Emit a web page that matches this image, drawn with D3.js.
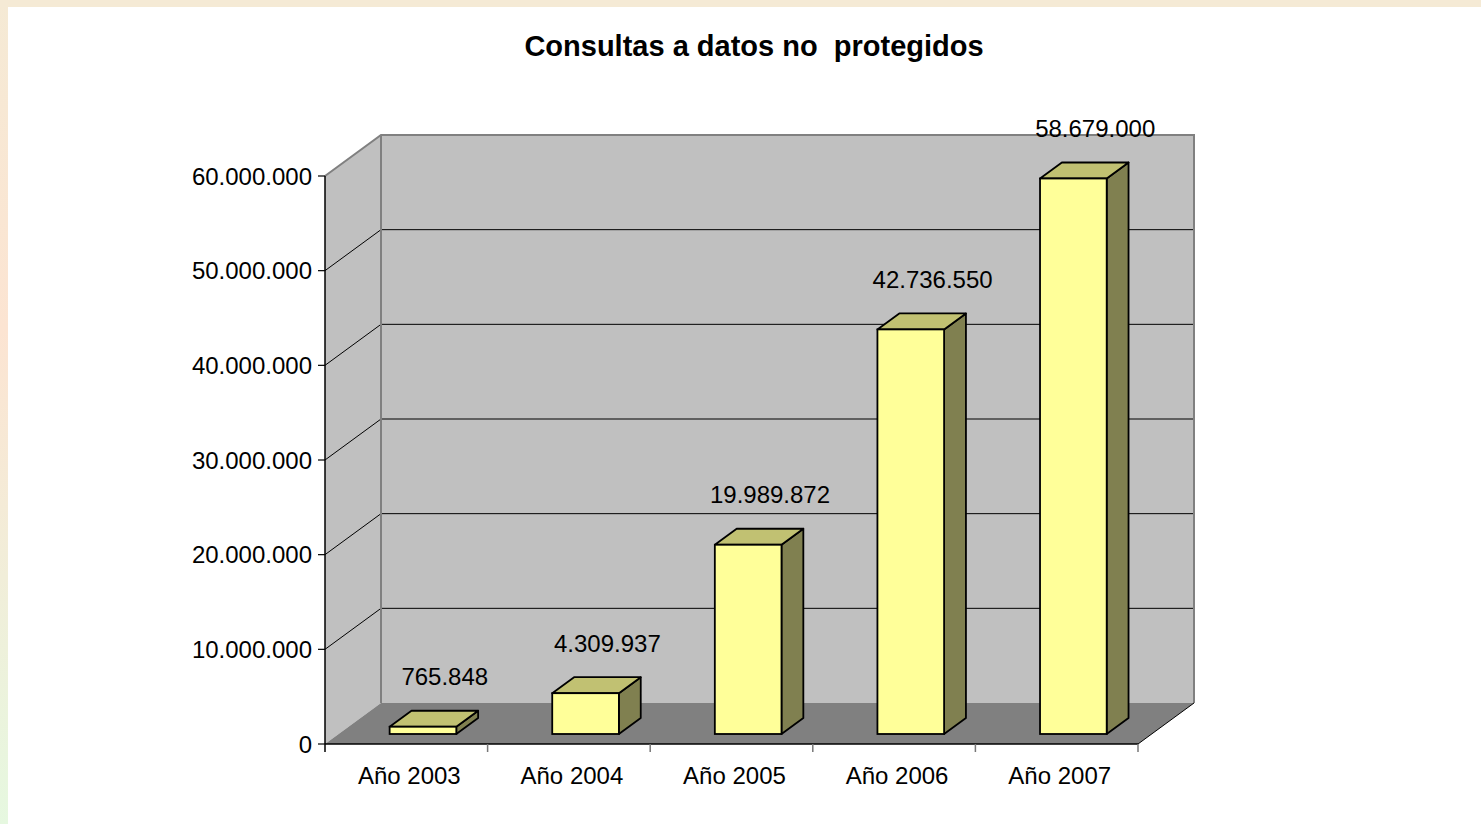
<!DOCTYPE html>
<html>
<head>
<meta charset="utf-8">
<script src="https://cdn.jsdelivr.net/npm/d3@7"></script>
<style>
  body { margin: 0; background: #fff; }
  text { font-family: "Liberation Sans", Arial, sans-serif; }
</style>
</head>
<body>
<div class="canva"></div>
<script>
// datos
const years = ["Año 2003", "Año 2004", "Año 2005", "Año 2006", "Año 2007"];
const consultas = [765848, 4309937, 19989872, 42736550, 58679000];
const yTicks = [0, 10000000, 20000000, 30000000, 40000000, 50000000, 60000000];
const titulo = "Consultas a datos no  protegidos";

const W = 1481, H = 824;

const svg = d3.select(".canva").append("svg")
    .attr("width", W)
    .attr("height", H);

// marco de fondo
const defs = svg.append("defs");
const grad = defs.append("linearGradient")
    .attr("id", "marco")
    .attr("x1", 0).attr("y1", 0).attr("x2", 0).attr("y2", 1);
grad.append("stop").attr("offset", "0%").attr("stop-color", "#f5ead5");
grad.append("stop").attr("offset", "40%").attr("stop-color", "#fce4d2");
grad.append("stop").attr("offset", "100%").attr("stop-color", "#e6f8e0");

svg.append("rect").attr("width", W).attr("height", H).attr("fill", "url(#marco)");
svg.append("rect").attr("width", W).attr("height", 7).attr("fill", "#f5ead5");
svg.append("rect").attr("x", 8).attr("y", 7).attr("width", W - 8).attr("height", H - 7).attr("fill", "#fff");

// escalas
const x0 = 325, x1 = 1138;
const depth = [56, -41];        // profundidad del fondo
const barDepth = [0.244, 0.634]; // fraccion de profundidad de las barras

const x = d3.scaleBand().domain(years).range([x0, x1]).padding(0);
const y = d3.scaleLinear().domain([0, 60000000]).range([744, 176]);

const loc = d3.formatLocale({ decimal: ",", thousands: ".", grouping: [3], currency: ["", ""] });
const fmt = loc.format(",d");

const g = svg.append("g");

const dx = f => depth[0] * f;
const dy = f => depth[1] * f;

const yTop = y(yTicks[yTicks.length - 1]);
const y0 = y(0);

// pared izquierda, fondo y suelo
g.append("polygon")
    .attr("points", [[x0, yTop], [x0 + depth[0], yTop + depth[1]], [x0 + depth[0], y0 + depth[1]], [x0, y0]].join(" "))
    .attr("fill", "#c0c0c0");
g.append("rect")
    .attr("x", x0 + depth[0]).attr("y", yTop + depth[1])
    .attr("width", x1 - x0).attr("height", y0 - yTop)
    .attr("fill", "#c0c0c0");
g.append("polygon")
    .attr("points", [[x0, y0], [x1, y0], [x1 + depth[0], y0 + depth[1]], [x0 + depth[0], y0 + depth[1]]].join(" "))
    .attr("fill", "#808080");

// lineas de division
const grid = yTicks.slice(1, -1);
g.selectAll(".gridback").data(grid).enter().append("line")
    .attr("x1", x0 + depth[0]).attr("x2", x1 + depth[0])
    .attr("y1", d => y(d) + depth[1]).attr("y2", d => y(d) + depth[1])
    .attr("stroke", "#000").attr("stroke-width", 1);
g.selectAll(".gridside").data(grid).enter().append("line")
    .attr("x1", x0).attr("x2", x0 + depth[0])
    .attr("y1", d => y(d)).attr("y2", d => y(d) + depth[1])
    .attr("stroke", "#000").attr("stroke-width", 1);

// bordes grises de las paredes
g.append("polyline")
    .attr("points", [[x0, yTop], [x0 + depth[0], yTop + depth[1]], [x1 + depth[0], yTop + depth[1]], [x1 + depth[0], y0 + depth[1]]].join(" "))
    .attr("fill", "none").attr("stroke", "#808080").attr("stroke-width", 2);
g.append("line")
    .attr("x1", x0 + depth[0]).attr("x2", x0 + depth[0])
    .attr("y1", yTop + depth[1]).attr("y2", y0 + depth[1])
    .attr("stroke", "#808080").attr("stroke-width", 2);
g.append("line")
    .attr("x1", x1).attr("y1", y0)
    .attr("x2", x1 + depth[0]).attr("y2", y0 + depth[1])
    .attr("stroke", "#000").attr("stroke-width", 1);

// barras 3D
const bw = x.bandwidth() * 0.41;
const bx = d => x(d) + (x.bandwidth() - bw) / 2 + 3 + dx(barDepth[0]);
const f1 = barDepth[0], f2 = barDepth[1];
const ddx = dx(f2) - dx(f1), ddy = dy(f2) - dy(f1);

const bars = g.selectAll(".bar").data(years.map((k, i) => ({ k, v: consultas[i] })))
    .enter().append("g").attr("class", "bar");

bars.append("polygon") // lado
    .attr("points", d => {
        const xr = bx(d.k) + bw, yt = y(d.v) + dy(f1), yb = y0 + dy(f1);
        return [[xr, yt], [xr + ddx, yt + ddy], [xr + ddx, yb + ddy], [xr, yb]].join(" ");
    })
    .attr("fill", "#808050").attr("stroke", "#000").attr("stroke-width", 1.8).attr("stroke-linejoin", "round");
bars.append("polygon") // tapa
    .attr("points", d => {
        const xl = bx(d.k), yt = y(d.v) + dy(f1);
        return [[xl, yt], [xl + ddx, yt + ddy], [xl + bw + ddx, yt + ddy], [xl + bw, yt]].join(" ");
    })
    .attr("fill", "#c1c172").attr("stroke", "#000").attr("stroke-width", 1.8).attr("stroke-linejoin", "round");
bars.append("rect") // frente
    .attr("x", d => bx(d.k))
    .attr("y", d => y(d.v) + dy(f1))
    .attr("width", bw)
    .attr("height", d => y0 - y(d.v))
    .attr("fill", "#ffff99").attr("stroke", "#000").attr("stroke-width", 1.8);

// etiquetas de valor
bars.append("text")
    .attr("x", d => bx(d.k) + bw / 2 + ddx)
    .attr("y", d => y(d.v) + dy(f2) - 34)
    .attr("text-anchor", "middle")
    .attr("dominant-baseline", "central")
    .attr("font-size", 24)
    .text(d => fmt(d.v));

// ejes
const yAxis = g.append("g");
yAxis.append("line")
    .attr("x1", x0).attr("x2", x0).attr("y1", yTop).attr("y2", y0)
    .attr("stroke", "#000").attr("stroke-width", 1.5);
yAxis.selectAll(".tick").data(yTicks).enter().append("line")
    .attr("x1", x0 - 7).attr("x2", x0)
    .attr("y1", d => y(d)).attr("y2", d => y(d))
    .attr("stroke", "#000").attr("stroke-width", 1.2);
yAxis.selectAll(".lbl").data(yTicks).enter().append("text")
    .attr("x", x0 - 13)
    .attr("y", d => y(d))
    .attr("text-anchor", "end")
    .attr("dominant-baseline", "central")
    .attr("font-size", 24)
    .text(d => fmt(d));

const xAxis = g.append("g");
xAxis.append("line")
    .attr("x1", x0).attr("x2", x1).attr("y1", y0).attr("y2", y0)
    .attr("stroke", "#000").attr("stroke-width", 1.5);
xAxis.selectAll(".tick").data(years.concat(["end"])).enter().append("line")
    .attr("x1", (d, i) => x0 + i * x.bandwidth()).attr("x2", (d, i) => x0 + i * x.bandwidth())
    .attr("y1", y0).attr("y2", y0 + 8)
    .attr("stroke", (d, i) => i === 0 ? "#000" : "#777").attr("stroke-width", 1.5);
xAxis.selectAll(".lbl").data(years).enter().append("text")
    .attr("x", d => x(d) + x.bandwidth() / 2 + 3)
    .attr("y", y0 + 31)
    .attr("text-anchor", "middle")
    .attr("dominant-baseline", "central")
    .attr("font-size", 24)
    .text(d => d);

// titulo
svg.append("text")
    .attr("x", 754)
    .attr("y", 46)
    .attr("text-anchor", "middle")
    .attr("dominant-baseline", "central")
    .attr("font-size", 29)
    .attr("font-weight", "bold")
    .style("white-space", "pre")
    .text(titulo);
</script>
</body>
</html>
